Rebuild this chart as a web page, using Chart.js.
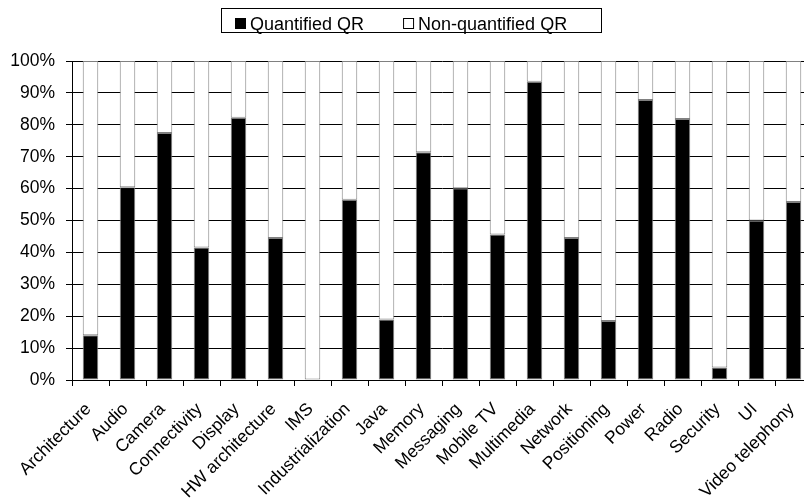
<!DOCTYPE html>
<html>
<head>
<meta charset="utf-8">
<script src="https://cdn.jsdelivr.net/npm/chart.js@4.4.1/dist/chart.umd.min.js"></script>
<style>
  html, body { margin: 0; padding: 0; background: #fff; overflow: hidden; }
  #wrap { width: 830px; height: 499px; }
</style>
</head>
<body>
<div id="wrap"><canvas id="chart" width="830" height="499"></canvas></div>
<script>
// Share of quality requirements per area, in percent
const categories = [
  'Architecture', 'Audio', 'Camera', 'Connectivity', 'Display', 'HW architecture',
  'IMS', 'Industrialization', 'Java', 'Memory', 'Messaging', 'Mobile TV',
  'Multimedia', 'Network', 'Positioning', 'Power', 'Radio', 'Security', 'UI',
  'Video telephony'
];
const quantified = [
  14, 60.4, 77.4, 41.5, 82.2, 44.5, 0, 56.5, 19, 71.4,
  60.1, 45.6, 93.5, 44.5, 18.5, 87.8, 81.8, 3.9, 50, 55.8
];
const nonQuantified = [
  86, 39.6, 22.6, 58.5, 17.8, 55.5, 100, 43.5, 81, 28.6,
  39.9, 54.4, 6.5, 55.5, 81.5, 12.2, 18.2, 96.1, 50, 44.2
];
const seriesNames = ['Quantified QR', 'Non-quantified QR'];
const yTickLabels = ['0%', '10%', '20%', '30%', '40%', '50%', '60%', '70%', '80%', '90%', '100%'];

const FONT = '"Liberation Sans", Arial, Helvetica, sans-serif';

// Boxed legend drawn above the plot
const boxedLegend = {
  id: 'boxedLegend',
  afterDraw(chart) {
    const ctx = chart.ctx;
    const ds = chart.data.datasets;
    ctx.save();
    ctx.font = '18px ' + FONT;
    const w1 = ctx.measureText(ds[0].label).width;
    const w2 = ctx.measureText(ds[1].label).width;
    const padL = 14, padR = 34, mk = 11, gap = 4, spacing = 39;
    const total = padL + mk + gap + w1 + spacing + mk + gap + w2 + padR;
    const left = 221;
    const top = 8, h = 24;
    ctx.strokeStyle = '#000';
    ctx.lineWidth = 1;
    ctx.strokeRect(left + 0.5, top + 0.5, Math.round(total), h);
    const baseY = 29.5;
    let x = left + padL;
    ctx.fillStyle = ds[0].backgroundColor;
    ctx.fillRect(x, 18, mk, mk);
    x += mk + gap;
    ctx.fillStyle = '#000';
    ctx.textBaseline = 'alphabetic';
    ctx.textAlign = 'left';
    ctx.fillText(ds[0].label, x, baseY);
    x += w1 + spacing;
    ctx.fillStyle = ds[1].backgroundColor;
    ctx.fillRect(x, 18, mk, mk);
    ctx.strokeRect(x + 0.5, 18.5, mk - 1, mk - 1);
    x += mk + gap;
    ctx.fillStyle = '#000';
    ctx.fillText(ds[1].label, x, baseY);
    ctx.restore();
  }
};

new Chart(document.getElementById('chart'), {
  type: 'bar',
  data: {
    labels: categories,
    datasets: [
      {
        label: seriesNames[0],
        data: quantified,
        backgroundColor: '#000000',
        borderColor: '#808080',
        borderWidth: 1,
        borderSkipped: false,
        barPercentage: 0.42,
        categoryPercentage: 1
      },
      {
        label: seriesNames[1],
        data: nonQuantified,
        backgroundColor: '#ffffff',
        borderColor: '#808080',
        borderWidth: 1,
        borderSkipped: false,
        barPercentage: 0.42,
        categoryPercentage: 1
      }
    ]
  },
  options: {
    responsive: false,
    animation: false,
    devicePixelRatio: 1,
    layout: { padding: { top: 61, right: 18, left: 0, bottom: 0 } },
    plugins: {
      legend: { display: false },
      tooltip: { enabled: false }
    },
    scales: {
      x: {
        stacked: true,
        offset: true,
        grid: {
          display: true,
          drawOnChartArea: false,
          offset: true,
          color: '#000',
          tickColor: '#000',
          tickLength: 6
        },
        border: { color: '#000', width: 1 },
        ticks: {
          color: '#000',
          font: { family: FONT, size: 17.5 },
          minRotation: 45,
          maxRotation: 45,
          autoSkip: false,
          padding: 13,
          labelOffset: -2
        },
        afterFit(scale) { scale.height = 119; }
      },
      y: {
        stacked: true,
        min: 0,
        max: 100,
        grid: {
          color: '#000',
          lineWidth: 1,
          tickColor: '#000',
          tickLength: 6
        },
        border: { color: '#000', width: 1 },
        ticks: {
          stepSize: 10,
          color: '#000',
          font: { family: FONT, size: 17.5 },
          padding: 11,
          callback: (value, index) => yTickLabels[index]
        },
        afterFit(scale) { scale.width = 72; }
      }
    }
  },
  plugins: [boxedLegend]
});
</script>
</body>
</html>
